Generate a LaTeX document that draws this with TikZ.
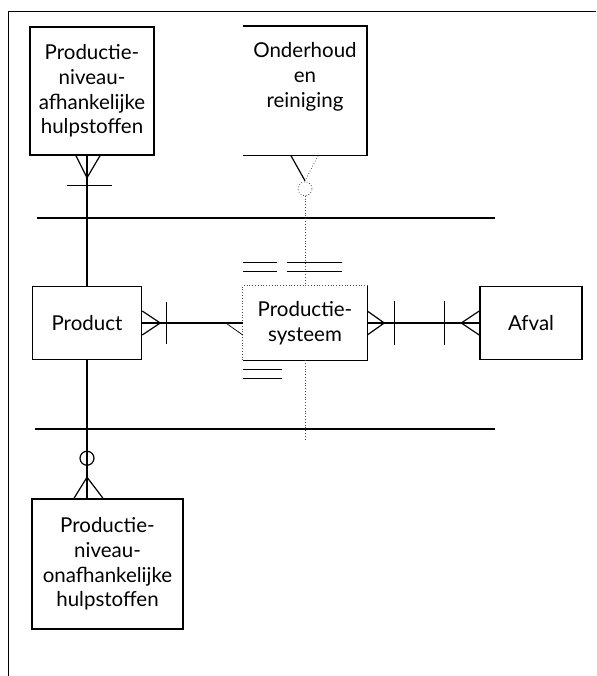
\documentclass[tikz,border=0pt]{standalone}
\usepackage{fontspec}
\setmainfont{Lato}

\tikzset{
  entity/.style={draw,line width=1.5pt,align=center,inner sep=0pt,
    font=\fontsize{20.5}{24.7}\selectfont},
  rel/.style={line width=1.2pt},
  faint/.style={line width=0.8pt,dotted,black!70},
}

\begin{document}
\begin{tikzpicture}[x=1pt,y=-1pt]
  \useasboundingbox (0,0) rectangle (596,676);
  \draw[line width=1pt] (596,12) -- (8,12) -- (8,676);

  \node[entity,minimum width=124pt,minimum height=128pt] (hulpA) at (92,91) {Productie-\\niveau-\\afhankelijke\\hulpstoffen};
  \node[entity,draw=none,minimum width=122pt,minimum height=128pt] (onderhoud) at (305,91) {Onderhoud\\en\\reiniging\\\strut};

  \node[entity,minimum width=109pt,minimum height=73pt] (product) at (87,323) {Product};
  \node[entity,draw=none,minimum width=123pt,minimum height=73pt] (systeem) at (305,323) {Productie-\\systeem};
  \node[entity,minimum width=102pt,minimum height=73pt] (afval) at (531,323) {Afval};

  \node[entity,minimum width=151pt,minimum height=130pt] (hulpC) at (107.5,564) {Productie-\\niveau-\\onafhankelijke\\hulpstoffen};

  \draw[line width=1.5pt] (onderhoud.north west) -- (onderhoud.north east) -- (onderhoud.south east) -- (onderhoud.south west);
  \draw[line width=1.5pt] (systeem.north east) -- (systeem.south east) -- (systeem.south west);
  \draw[faint] (systeem.south west) -- (systeem.north west) -- (systeem.north east);

  \coordinate (l1w) at (37,218);
  \coordinate (l1e) at (495,218);
  \coordinate (l2w) at (35,429);
  \coordinate (l2e) at (495,429);
  \draw[rel] (l1w) -- (l1e);
  \draw[rel] (l2w) -- (l2e);

  \coordinate (afoot) at (hulpA.south -| product.north);
  \draw[rel] (afoot) -- (product.north);
  \draw[rel] ([xshift=-11pt]afoot) -- ([yshift=-22pt]afoot) -- ([xshift=13pt]afoot);
  \draw[rel] ([xshift=-20pt,yshift=-30pt]afoot) -- ([xshift=25pt,yshift=-30pt]afoot);

  \draw[rel] ([xshift=-14pt]onderhoud.south) -- ([yshift=-25pt]onderhoud.south);
  \draw[faint] ([xshift=13pt]onderhoud.south) -- ([yshift=-25pt]onderhoud.south);
  \draw[faint] ([yshift=-33pt]onderhoud.south) circle (7pt);
  \draw[faint] ([yshift=-40pt]onderhoud.south) -- (systeem.north);
  \coordinate (dotend) at (305,440);
  \draw[faint] (systeem.south) -- (dotend);

  \draw[line width=1pt] ([yshift=23pt]systeem.north west) -- ++(34,0);
  \draw[line width=1pt] ([yshift=14pt]systeem.north west) -- ++(34,0);
  \draw[line width=1pt] ([xshift=44pt,yshift=23pt]systeem.north west) -- ++(55,0);
  \draw[line width=1pt] ([xshift=44pt,yshift=14pt]systeem.north west) -- ++(55,0);
  \draw[line width=1pt] ([yshift=-9pt]systeem.south west) -- ++(39,0);
  \draw[line width=1pt] ([yshift=-18pt]systeem.south west) -- ++(39,0);

  \draw[rel] (product.east) -- (systeem.west);
  \draw[rel] ([yshift=12pt]product.east) -- ([xshift=18pt]product.east) -- ([yshift=-12pt]product.east);
  \draw[rel] ([xshift=24pt,yshift=21pt]product.east) -- ([xshift=24pt,yshift=-21pt]product.east);
  \draw[rel,line width=0.7pt] ([xshift=-17pt]systeem.west) -- ([yshift=-12pt]systeem.west);

  \draw[rel] (systeem.east) -- (afval.west);
  \draw[rel] ([yshift=12pt]systeem.east) -- ([xshift=17pt]systeem.east) -- ([yshift=-12pt]systeem.east);
  \draw[rel] ([xshift=27pt,yshift=22pt]systeem.east) -- ([xshift=27pt,yshift=-22pt]systeem.east);
  \draw[rel] ([yshift=12pt]afval.west) -- ([xshift=-18pt]afval.west) -- ([yshift=-12pt]afval.west);
  \draw[rel] ([xshift=-35pt,yshift=22pt]afval.west) -- ([xshift=-35pt,yshift=-22pt]afval.west);

  \coordinate (cfoot) at (product.south |- hulpC.north);
  \draw[rel] (product.south) -- (cfoot);
  \draw[rel] ([yshift=40pt]cfoot) circle (7pt);
  \draw[rel] ([xshift=-13pt]cfoot) -- ([yshift=21pt]cfoot) -- ([xshift=16pt]cfoot);
\end{tikzpicture}
\end{document}
